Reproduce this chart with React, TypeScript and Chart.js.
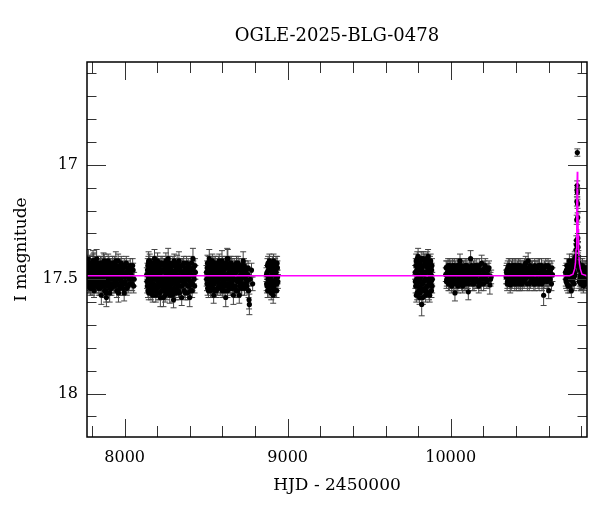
import { useEffect, useRef } from 'react';
import { Chart, registerables } from 'chart.js';

Chart.register(...registerables);

// [HJD - 2450000, I mag, error]
type Obs = [number, number, number];

const TITLE = 'OGLE-2025-BLG-0478';
const X_LABEL = 'HJD - 2450000';
const Y_LABEL = 'I magnitude';
const X_TICKS = [8000, 9000, 10000];
const Y_TICKS = [17, 17.5, 18];
const X_MIN = 7769;
const X_MAX = 10836;
const Y_MIN = 16.55;
const Y_MAX = 18.19;

const season1: Obs[] = [
  [7771, 17.47, 0.03], [7774, 17.52, 0.03], [7776, 17.44, 0.03], [7779, 17.5, 0.03], [7781, 17.46, 0.03],
  [7784, 17.53, 0.03], [7786, 17.43, 0.035], [7789, 17.49, 0.03], [7792, 17.51, 0.03], [7794, 17.45, 0.03],
  [7797, 17.48, 0.03], [7800, 17.54, 0.03], [7803, 17.44, 0.03], [7805, 17.5, 0.03], [7808, 17.47, 0.03],
  [7811, 17.42, 0.035], [7813, 17.52, 0.03], [7816, 17.46, 0.03], [7819, 17.49, 0.03], [7822, 17.53, 0.03],
  [7824, 17.45, 0.03], [7827, 17.5, 0.03], [7830, 17.43, 0.03], [7833, 17.48, 0.03], [7836, 17.51, 0.03],
  [7838, 17.46, 0.03], [7841, 17.54, 0.03], [7844, 17.44, 0.03], [7847, 17.49, 0.03], [7850, 17.52, 0.03],
  [7853, 17.47, 0.03], [7857, 17.57, 0.04], [7860, 17.43, 0.03], [7863, 17.5, 0.03], [7866, 17.45, 0.03],
  [7869, 17.53, 0.03], [7872, 17.48, 0.03], [7875, 17.42, 0.03], [7878, 17.51, 0.03], [7881, 17.46, 0.03],
  [7884, 17.55, 0.03], [7888, 17.58, 0.04], [7891, 17.44, 0.03], [7894, 17.49, 0.03], [7897, 17.52, 0.03],
  [7900, 17.47, 0.03], [7904, 17.43, 0.03], [7907, 17.5, 0.03], [7910, 17.54, 0.03], [7913, 17.45, 0.03],
  [7917, 17.48, 0.03], [7920, 17.52, 0.03], [7923, 17.44, 0.03], [7927, 17.5, 0.03], [7930, 17.46, 0.03],
  [7934, 17.53, 0.03], [7937, 17.43, 0.03], [7941, 17.49, 0.03], [7945, 17.51, 0.03], [7948, 17.45, 0.03],
  [7952, 17.55, 0.03], [7956, 17.47, 0.03], [7960, 17.42, 0.03], [7964, 17.5, 0.03], [7968, 17.53, 0.03],
  [7972, 17.46, 0.03], [7976, 17.44, 0.03], [7980, 17.51, 0.03], [7985, 17.48, 0.03], [7990, 17.54, 0.03],
  [7995, 17.45, 0.03], [8000, 17.49, 0.03], [8005, 17.52, 0.03], [8010, 17.43, 0.03], [8016, 17.47, 0.03],
  [8022, 17.53, 0.03], [8028, 17.5, 0.03], [8034, 17.44, 0.03], [8040, 17.48, 0.03], [8046, 17.52, 0.03],
  [8052, 17.46, 0.03], [8058, 17.5, 0.03],
  [7772, 17.5, 0.03], [7775, 17.45, 0.03], [7778, 17.53, 0.03], [7780, 17.48, 0.03], [7783, 17.43, 0.03],
  [7785, 17.51, 0.03], [7788, 17.46, 0.03], [7790, 17.54, 0.03], [7793, 17.47, 0.03], [7796, 17.44, 0.03],
  [7799, 17.5, 0.03], [7802, 17.52, 0.03], [7804, 17.46, 0.03], [7807, 17.42, 0.03], [7810, 17.49, 0.03],
  [7812, 17.55, 0.03], [7815, 17.44, 0.03], [7818, 17.51, 0.03], [7821, 17.47, 0.03], [7823, 17.43, 0.03],
  [7826, 17.53, 0.03], [7829, 17.48, 0.03], [7832, 17.45, 0.03], [7835, 17.52, 0.03], [7837, 17.49, 0.03],
  [7840, 17.44, 0.03], [7843, 17.51, 0.03], [7846, 17.46, 0.03], [7849, 17.54, 0.03], [7852, 17.43, 0.03],
  [7855, 17.5, 0.03], [7859, 17.47, 0.03], [7862, 17.53, 0.03], [7865, 17.44, 0.03], [7868, 17.49, 0.03],
  [7871, 17.52, 0.03], [7874, 17.46, 0.03], [7877, 17.55, 0.03], [7880, 17.43, 0.03], [7883, 17.48, 0.03],
  [7887, 17.51, 0.03], [7890, 17.45, 0.03], [7893, 17.53, 0.03], [7896, 17.47, 0.03], [7899, 17.42, 0.03],
  [7903, 17.5, 0.03], [7906, 17.46, 0.03], [7909, 17.52, 0.03], [7912, 17.44, 0.03], [7915, 17.49, 0.03],
  [7919, 17.54, 0.03], [7922, 17.47, 0.03], [7926, 17.43, 0.03], [7929, 17.52, 0.03], [7933, 17.48, 0.03],
  [7936, 17.45, 0.03], [7940, 17.53, 0.03], [7944, 17.47, 0.03], [7947, 17.5, 0.03], [7951, 17.44, 0.03],
  [7955, 17.52, 0.03], [7959, 17.49, 0.03], [7963, 17.45, 0.03], [7967, 17.47, 0.03], [7971, 17.54, 0.03],
  [7975, 17.5, 0.03], [7979, 17.43, 0.03], [7983, 17.46, 0.03], [7988, 17.52, 0.03], [7993, 17.48, 0.03],
  [7998, 17.44, 0.03], [8003, 17.51, 0.03], [8008, 17.47, 0.03], [8013, 17.54, 0.03], [8019, 17.45, 0.03],
  [8025, 17.49, 0.03], [8031, 17.52, 0.03], [8037, 17.46, 0.03], [8043, 17.5, 0.03], [8049, 17.44, 0.03],
  [8055, 17.53, 0.03],
  [7777, 17.41, 0.04], [7806, 17.42, 0.045], [7828, 17.41, 0.04], [7870, 17.43, 0.045], [7886, 17.56, 0.04],
  [7908, 17.56, 0.04], [7946, 17.42, 0.04], [7962, 17.56, 0.04], [7997, 17.56, 0.035],
];

const season2: Obs[] = [
  [8136, 17.48, 0.03], [8139, 17.53, 0.03], [8142, 17.44, 0.03], [8145, 17.5, 0.03], [8148, 17.56, 0.03],
  [8151, 17.46, 0.03], [8154, 17.42, 0.03], [8157, 17.51, 0.03], [8160, 17.47, 0.03], [8163, 17.54, 0.03],
  [8166, 17.45, 0.03], [8169, 17.49, 0.03], [8172, 17.57, 0.03], [8175, 17.43, 0.03], [8178, 17.52, 0.03],
  [8181, 17.47, 0.03], [8184, 17.5, 0.03], [8187, 17.55, 0.03], [8190, 17.44, 0.03], [8193, 17.48, 0.03],
  [8196, 17.53, 0.03], [8199, 17.46, 0.03], [8202, 17.42, 0.035], [8205, 17.51, 0.03], [8208, 17.56, 0.03],
  [8211, 17.45, 0.03], [8214, 17.49, 0.03], [8217, 17.53, 0.03], [8220, 17.47, 0.03], [8223, 17.43, 0.03],
  [8226, 17.55, 0.03], [8229, 17.5, 0.03], [8232, 17.46, 0.03], [8235, 17.52, 0.03], [8238, 17.58, 0.04],
  [8241, 17.44, 0.03], [8244, 17.49, 0.03], [8247, 17.54, 0.03], [8250, 17.47, 0.03], [8253, 17.42, 0.035],
  [8256, 17.51, 0.03], [8259, 17.56, 0.03], [8262, 17.45, 0.03], [8265, 17.5, 0.03], [8268, 17.53, 0.03],
  [8271, 17.48, 0.03], [8274, 17.43, 0.03], [8277, 17.57, 0.035], [8280, 17.46, 0.03], [8283, 17.52, 0.03],
  [8286, 17.49, 0.03], [8289, 17.55, 0.03], [8292, 17.44, 0.03], [8295, 17.5, 0.03], [8298, 17.47, 0.03],
  [8301, 17.54, 0.03], [8304, 17.42, 0.03], [8307, 17.51, 0.03], [8310, 17.48, 0.03], [8313, 17.56, 0.03],
  [8316, 17.45, 0.03], [8319, 17.52, 0.03], [8322, 17.43, 0.035], [8326, 17.5, 0.03], [8330, 17.55, 0.03],
  [8334, 17.46, 0.03], [8338, 17.49, 0.03], [8342, 17.53, 0.03], [8346, 17.44, 0.03], [8350, 17.58, 0.035],
  [8354, 17.47, 0.03], [8358, 17.51, 0.03], [8362, 17.43, 0.03], [8366, 17.55, 0.03], [8370, 17.48, 0.03],
  [8374, 17.52, 0.03], [8378, 17.45, 0.03], [8382, 17.5, 0.03], [8386, 17.56, 0.03], [8390, 17.44, 0.03],
  [8394, 17.49, 0.03], [8398, 17.53, 0.03], [8402, 17.46, 0.03], [8406, 17.51, 0.03], [8410, 17.43, 0.03],
  [8414, 17.55, 0.03], [8419, 17.41, 0.045], [8424, 17.49, 0.03], [8429, 17.53, 0.03], [8434, 17.47, 0.03],
  [8137, 17.51, 0.03], [8140, 17.46, 0.03], [8143, 17.55, 0.03], [8146, 17.43, 0.03], [8149, 17.49, 0.03],
  [8152, 17.53, 0.03], [8155, 17.47, 0.03], [8158, 17.44, 0.03], [8161, 17.56, 0.03], [8164, 17.5, 0.03],
  [8167, 17.45, 0.03], [8170, 17.52, 0.03], [8173, 17.48, 0.03], [8176, 17.55, 0.03], [8179, 17.44, 0.03],
  [8182, 17.53, 0.03], [8185, 17.46, 0.03], [8188, 17.5, 0.03], [8191, 17.57, 0.03], [8194, 17.43, 0.03],
  [8197, 17.49, 0.03], [8200, 17.54, 0.03], [8203, 17.47, 0.03], [8206, 17.45, 0.03], [8209, 17.52, 0.03],
  [8212, 17.48, 0.03], [8215, 17.56, 0.03], [8218, 17.44, 0.03], [8221, 17.51, 0.03], [8224, 17.47, 0.03],
  [8227, 17.53, 0.03], [8230, 17.43, 0.03], [8233, 17.5, 0.03], [8236, 17.55, 0.03], [8239, 17.46, 0.03],
  [8242, 17.52, 0.03], [8245, 17.44, 0.03], [8248, 17.57, 0.03], [8251, 17.49, 0.03], [8254, 17.46, 0.03],
  [8257, 17.53, 0.03], [8260, 17.43, 0.03], [8263, 17.48, 0.03], [8266, 17.55, 0.03], [8269, 17.45, 0.03],
  [8272, 17.51, 0.03], [8275, 17.47, 0.03], [8278, 17.44, 0.03], [8281, 17.54, 0.03], [8284, 17.49, 0.03],
  [8287, 17.46, 0.03], [8290, 17.52, 0.03], [8293, 17.57, 0.03], [8296, 17.43, 0.03], [8299, 17.5, 0.03],
  [8302, 17.47, 0.03], [8305, 17.55, 0.03], [8308, 17.44, 0.03], [8311, 17.52, 0.03], [8314, 17.49, 0.03],
  [8317, 17.46, 0.03], [8320, 17.54, 0.03], [8324, 17.48, 0.03], [8328, 17.44, 0.03], [8332, 17.51, 0.03],
  [8336, 17.56, 0.03], [8340, 17.45, 0.03], [8344, 17.5, 0.03], [8348, 17.47, 0.03], [8352, 17.53, 0.03],
  [8356, 17.44, 0.03], [8360, 17.49, 0.03], [8364, 17.52, 0.03], [8368, 17.46, 0.03], [8372, 17.56, 0.03],
  [8376, 17.5, 0.03], [8380, 17.43, 0.03], [8384, 17.48, 0.03], [8388, 17.53, 0.03], [8392, 17.47, 0.03],
  [8396, 17.45, 0.03], [8400, 17.51, 0.03], [8404, 17.55, 0.03], [8408, 17.48, 0.03], [8412, 17.46, 0.03],
  [8416, 17.52, 0.03], [8421, 17.45, 0.03], [8426, 17.5, 0.03], [8431, 17.44, 0.03],
  [8147, 17.42, 0.04], [8183, 17.41, 0.04], [8219, 17.58, 0.04], [8267, 17.41, 0.045], [8300, 17.59, 0.035],
  [8333, 17.42, 0.04], [8399, 17.58, 0.04],
];

const season3: Obs[] = [
  [8502, 17.47, 0.03], [8505, 17.52, 0.03], [8508, 17.43, 0.035], [8511, 17.49, 0.03], [8514, 17.55, 0.03],
  [8517, 17.45, 0.03], [8520, 17.5, 0.03], [8523, 17.53, 0.03], [8526, 17.44, 0.03], [8529, 17.48, 0.03],
  [8532, 17.51, 0.03], [8535, 17.46, 0.03], [8538, 17.42, 0.03], [8541, 17.54, 0.03], [8544, 17.49, 0.03],
  [8547, 17.45, 0.03], [8550, 17.52, 0.03], [8553, 17.47, 0.03], [8556, 17.43, 0.03], [8559, 17.5, 0.03],
  [8562, 17.55, 0.03], [8565, 17.46, 0.03], [8568, 17.51, 0.03], [8571, 17.44, 0.03], [8574, 17.48, 0.03],
  [8577, 17.53, 0.03], [8580, 17.42, 0.03], [8583, 17.5, 0.03], [8586, 17.47, 0.03], [8589, 17.54, 0.03],
  [8592, 17.45, 0.03], [8595, 17.49, 0.03], [8598, 17.52, 0.03], [8601, 17.43, 0.03], [8604, 17.51, 0.03],
  [8607, 17.46, 0.03], [8610, 17.55, 0.03], [8613, 17.48, 0.03], [8616, 17.44, 0.03], [8620, 17.58, 0.04],
  [8624, 17.5, 0.03], [8627, 17.45, 0.03], [8630, 17.53, 0.03], [8633, 17.41, 0.04], [8636, 17.48, 0.03],
  [8639, 17.52, 0.03], [8642, 17.44, 0.03], [8645, 17.5, 0.03], [8648, 17.46, 0.03], [8651, 17.54, 0.03],
  [8654, 17.43, 0.03], [8657, 17.49, 0.03], [8660, 17.51, 0.03], [8664, 17.46, 0.03], [8668, 17.53, 0.03],
  [8672, 17.44, 0.03], [8676, 17.5, 0.03], [8680, 17.47, 0.03], [8684, 17.55, 0.03], [8688, 17.45, 0.03],
  [8692, 17.51, 0.03], [8696, 17.43, 0.03], [8700, 17.49, 0.03], [8705, 17.53, 0.03], [8710, 17.46, 0.03],
  [8715, 17.5, 0.03], [8720, 17.44, 0.03], [8725, 17.52, 0.03], [8730, 17.47, 0.03], [8735, 17.54, 0.03],
  [8740, 17.45, 0.03], [8745, 17.5, 0.03], [8750, 17.53, 0.03], [8755, 17.48, 0.03], [8760, 17.55, 0.03],
  [8763, 17.59, 0.04], [8765, 17.61, 0.045], [8770, 17.5, 0.03], [8778, 17.46, 0.03], [8785, 17.52, 0.03],
  [8503, 17.5, 0.03], [8506, 17.45, 0.03], [8509, 17.54, 0.03], [8512, 17.47, 0.03], [8515, 17.43, 0.03],
  [8518, 17.52, 0.03], [8521, 17.48, 0.03], [8524, 17.45, 0.03], [8527, 17.55, 0.03], [8530, 17.5, 0.03],
  [8533, 17.44, 0.03], [8536, 17.53, 0.03], [8539, 17.48, 0.03], [8542, 17.46, 0.03], [8545, 17.52, 0.03],
  [8548, 17.43, 0.03], [8551, 17.5, 0.03], [8554, 17.55, 0.03], [8557, 17.47, 0.03], [8560, 17.44, 0.03],
  [8563, 17.51, 0.03], [8566, 17.49, 0.03], [8569, 17.54, 0.03], [8572, 17.46, 0.03], [8575, 17.43, 0.03],
  [8578, 17.5, 0.03], [8581, 17.52, 0.03], [8584, 17.45, 0.03], [8587, 17.49, 0.03], [8590, 17.44, 0.03],
  [8593, 17.53, 0.03], [8596, 17.47, 0.03], [8599, 17.55, 0.03], [8602, 17.48, 0.03], [8605, 17.44, 0.03],
  [8608, 17.51, 0.03], [8611, 17.46, 0.03], [8614, 17.53, 0.03], [8618, 17.49, 0.03], [8622, 17.43, 0.03],
  [8625, 17.52, 0.03], [8628, 17.48, 0.03], [8631, 17.55, 0.03], [8635, 17.45, 0.03], [8638, 17.5, 0.03],
  [8641, 17.47, 0.03], [8644, 17.53, 0.03], [8647, 17.43, 0.03], [8650, 17.49, 0.03], [8653, 17.52, 0.03],
  [8656, 17.46, 0.03], [8659, 17.44, 0.03], [8662, 17.54, 0.03], [8666, 17.48, 0.03], [8670, 17.5, 0.03],
  [8674, 17.45, 0.03], [8678, 17.53, 0.03], [8682, 17.47, 0.03], [8686, 17.43, 0.03], [8690, 17.5, 0.03],
  [8694, 17.55, 0.03], [8698, 17.46, 0.03], [8702, 17.44, 0.03], [8707, 17.51, 0.03], [8712, 17.48, 0.03],
  [8717, 17.54, 0.03], [8722, 17.46, 0.03], [8727, 17.49, 0.03], [8732, 17.44, 0.03], [8737, 17.52, 0.03],
  [8742, 17.48, 0.03], [8747, 17.46, 0.03], [8752, 17.51, 0.03], [8757, 17.45, 0.03],
  [8519, 17.41, 0.04], [8546, 17.57, 0.035], [8597, 17.42, 0.045], [8629, 17.41, 0.045], [8667, 17.57, 0.04],
  [8703, 17.57, 0.035], [8727, 17.42, 0.04],
];

const season4: Obs[] = [
  [8870, 17.48, 0.03], [8873, 17.53, 0.03], [8876, 17.44, 0.03], [8879, 17.5, 0.03], [8882, 17.46, 0.03],
  [8885, 17.55, 0.03], [8888, 17.42, 0.03], [8891, 17.49, 0.03], [8894, 17.52, 0.03], [8897, 17.45, 0.03],
  [8900, 17.51, 0.03], [8903, 17.47, 0.03], [8906, 17.43, 0.03], [8909, 17.54, 0.03], [8911, 17.57, 0.035],
  [8914, 17.48, 0.03], [8917, 17.45, 0.03], [8920, 17.52, 0.03], [8923, 17.44, 0.03], [8926, 17.5, 0.03],
  [8929, 17.47, 0.03], [8932, 17.55, 0.03], [8935, 17.43, 0.03], [8938, 17.49, 0.03], [8940, 17.51, 0.03],
  [8871, 17.52, 0.03], [8874, 17.47, 0.03], [8877, 17.55, 0.03], [8880, 17.43, 0.03], [8884, 17.5, 0.03],
  [8887, 17.46, 0.03], [8890, 17.53, 0.03], [8893, 17.44, 0.03], [8896, 17.49, 0.03], [8899, 17.56, 0.03],
  [8902, 17.45, 0.03], [8905, 17.51, 0.03], [8908, 17.47, 0.03], [8913, 17.42, 0.03], [8916, 17.53, 0.03],
  [8919, 17.48, 0.03], [8922, 17.55, 0.03], [8925, 17.46, 0.03], [8928, 17.43, 0.03], [8931, 17.5, 0.03],
  [8934, 17.52, 0.03], [8937, 17.45, 0.03],
];

const season5: Obs[] = [
  [9782, 17.47, 0.03], [9785, 17.53, 0.03], [9788, 17.42, 0.03], [9791, 17.5, 0.03], [9794, 17.56, 0.03],
  [9797, 17.44, 0.03], [9800, 17.4, 0.035], [9803, 17.51, 0.03], [9806, 17.46, 0.03], [9809, 17.58, 0.03],
  [9812, 17.43, 0.03], [9815, 17.49, 0.03], [9818, 17.54, 0.03], [9822, 17.61, 0.05], [9825, 17.45, 0.03],
  [9828, 17.52, 0.03], [9831, 17.41, 0.03], [9834, 17.48, 0.03], [9837, 17.55, 0.03], [9840, 17.44, 0.03],
  [9843, 17.5, 0.03], [9846, 17.57, 0.03], [9849, 17.42, 0.03], [9852, 17.47, 0.03], [9855, 17.53, 0.03],
  [9858, 17.45, 0.03], [9861, 17.4, 0.03], [9864, 17.51, 0.03], [9867, 17.56, 0.03], [9870, 17.46, 0.03],
  [9873, 17.43, 0.03], [9876, 17.52, 0.03], [9879, 17.48, 0.03], [9882, 17.55, 0.03], [9885, 17.44, 0.03],
  [9887, 17.5, 0.03],
  [9783, 17.51, 0.03], [9786, 17.44, 0.03], [9789, 17.57, 0.03], [9792, 17.46, 0.03], [9795, 17.41, 0.03],
  [9798, 17.53, 0.03], [9801, 17.48, 0.03], [9804, 17.55, 0.03], [9807, 17.43, 0.03], [9810, 17.5, 0.03],
  [9813, 17.56, 0.03], [9816, 17.45, 0.03], [9819, 17.41, 0.03], [9823, 17.52, 0.03], [9826, 17.47, 0.03],
  [9829, 17.58, 0.03], [9832, 17.44, 0.03], [9835, 17.51, 0.03], [9838, 17.42, 0.03], [9841, 17.54, 0.03],
  [9844, 17.47, 0.03], [9847, 17.43, 0.03], [9850, 17.55, 0.03], [9853, 17.5, 0.03], [9856, 17.41, 0.03],
  [9859, 17.53, 0.03], [9862, 17.46, 0.03], [9865, 17.44, 0.03], [9868, 17.5, 0.03], [9871, 17.57, 0.03],
  [9874, 17.48, 0.03], [9877, 17.42, 0.03], [9880, 17.51, 0.03], [9883, 17.46, 0.03], [9886, 17.53, 0.03],
];

const season6: Obs[] = [
  [9970, 17.48, 0.03], [9974, 17.51, 0.03], [9978, 17.45, 0.03], [9982, 17.49, 0.03], [9986, 17.52, 0.03],
  [9990, 17.46, 0.03], [9994, 17.44, 0.03], [9998, 17.5, 0.03], [10002, 17.47, 0.03], [10006, 17.53, 0.03],
  [10010, 17.45, 0.03], [10014, 17.49, 0.03], [10018, 17.51, 0.03], [10022, 17.44, 0.03], [10026, 17.56, 0.035],
  [10030, 17.48, 0.03], [10034, 17.46, 0.03], [10038, 17.52, 0.03], [10042, 17.47, 0.03], [10046, 17.5, 0.03],
  [10050, 17.44, 0.03], [10054, 17.49, 0.03], [10057, 17.42, 0.03], [10061, 17.51, 0.03], [10065, 17.46, 0.03],
  [10069, 17.48, 0.03], [10073, 17.53, 0.03], [10077, 17.45, 0.03], [10081, 17.5, 0.03], [10085, 17.47, 0.03],
  [10089, 17.44, 0.03], [10093, 17.52, 0.03], [10097, 17.49, 0.03], [10101, 17.46, 0.03], [10105, 17.51, 0.03],
  [10108, 17.555, 0.035], [10112, 17.47, 0.03], [10116, 17.45, 0.03], [10122, 17.41, 0.035], [10126, 17.5, 0.03],
  [10130, 17.48, 0.03], [10135, 17.52, 0.03], [10140, 17.45, 0.03], [10145, 17.49, 0.03], [10150, 17.46, 0.03],
  [10155, 17.51, 0.03], [10160, 17.44, 0.03], [10166, 17.48, 0.03], [10172, 17.53, 0.03], [10178, 17.46, 0.03],
  [10184, 17.5, 0.03], [10190, 17.43, 0.035], [10196, 17.49, 0.03], [10202, 17.52, 0.03], [10208, 17.45, 0.03],
  [10215, 17.48, 0.03], [10222, 17.51, 0.03], [10230, 17.46, 0.03], [10240, 17.525, 0.04], [10248, 17.49, 0.03],
  [9972, 17.45, 0.03], [9976, 17.5, 0.03], [9980, 17.47, 0.03], [9984, 17.44, 0.03], [9988, 17.5, 0.03],
  [9992, 17.52, 0.03], [9996, 17.47, 0.03], [10000, 17.45, 0.03], [10004, 17.51, 0.03], [10008, 17.48, 0.03],
  [10012, 17.44, 0.03], [10016, 17.52, 0.03], [10020, 17.47, 0.03], [10024, 17.5, 0.03], [10028, 17.45, 0.03],
  [10032, 17.51, 0.03], [10036, 17.48, 0.03], [10040, 17.44, 0.03], [10044, 17.53, 0.03], [10048, 17.47, 0.03],
  [10052, 17.51, 0.03], [10056, 17.46, 0.03], [10059, 17.49, 0.03], [10063, 17.44, 0.03], [10067, 17.52, 0.03],
  [10071, 17.47, 0.03], [10075, 17.5, 0.03], [10079, 17.45, 0.03], [10083, 17.52, 0.03], [10087, 17.48, 0.03],
  [10091, 17.46, 0.03], [10095, 17.51, 0.03], [10099, 17.44, 0.03], [10103, 17.49, 0.03], [10110, 17.52, 0.03],
  [10114, 17.48, 0.03], [10119, 17.5, 0.03], [10124, 17.46, 0.03], [10128, 17.44, 0.03], [10133, 17.5, 0.03],
  [10138, 17.47, 0.03], [10143, 17.52, 0.03], [10148, 17.44, 0.03], [10153, 17.48, 0.03], [10158, 17.5, 0.03],
  [10163, 17.46, 0.03], [10169, 17.51, 0.03], [10175, 17.44, 0.03], [10181, 17.48, 0.03], [10187, 17.52, 0.03],
  [10193, 17.46, 0.03], [10199, 17.5, 0.03], [10205, 17.47, 0.03], [10212, 17.44, 0.03], [10218, 17.5, 0.03],
  [10226, 17.48, 0.03], [10235, 17.45, 0.03], [10244, 17.5, 0.03],
];

const season7: Obs[] = [
  [10340, 17.49, 0.03], [10344, 17.46, 0.03], [10348, 17.51, 0.03], [10352, 17.47, 0.03], [10356, 17.44, 0.03],
  [10360, 17.5, 0.03], [10365, 17.525, 0.035], [10369, 17.48, 0.03], [10373, 17.45, 0.03], [10377, 17.51, 0.03],
  [10381, 17.47, 0.03], [10385, 17.49, 0.03], [10389, 17.44, 0.03], [10393, 17.52, 0.03], [10397, 17.46, 0.03],
  [10401, 17.5, 0.03], [10405, 17.48, 0.03], [10409, 17.45, 0.03], [10413, 17.51, 0.03], [10417, 17.47, 0.03],
  [10421, 17.49, 0.03], [10425, 17.44, 0.03], [10429, 17.52, 0.03], [10433, 17.46, 0.03], [10437, 17.5, 0.03],
  [10441, 17.48, 0.03], [10445, 17.45, 0.03], [10450, 17.51, 0.03], [10455, 17.47, 0.03], [10460, 17.43, 0.03],
  [10465, 17.49, 0.03], [10470, 17.52, 0.03], [10475, 17.42, 0.035], [10480, 17.48, 0.03], [10485, 17.46, 0.03],
  [10490, 17.51, 0.03], [10495, 17.45, 0.03], [10500, 17.49, 0.03], [10505, 17.47, 0.03], [10510, 17.52, 0.03],
  [10515, 17.44, 0.03], [10520, 17.5, 0.03], [10525, 17.47, 0.03], [10530, 17.45, 0.03], [10535, 17.51, 0.03],
  [10540, 17.48, 0.03], [10545, 17.44, 0.03], [10550, 17.5, 0.03], [10555, 17.46, 0.03], [10560, 17.52, 0.03],
  [10565, 17.48, 0.03], [10570, 17.57, 0.045], [10575, 17.45, 0.03], [10580, 17.5, 0.03], [10586, 17.47, 0.03],
  [10592, 17.51, 0.03], [10597, 17.44, 0.03], [10601, 17.55, 0.035], [10606, 17.49, 0.03], [10612, 17.46, 0.03],
  [10618, 17.52, 0.03], [10624, 17.48, 0.03],
  [10342, 17.47, 0.03], [10346, 17.52, 0.03], [10350, 17.45, 0.03], [10354, 17.5, 0.03], [10358, 17.47, 0.03],
  [10362, 17.44, 0.03], [10367, 17.5, 0.03], [10371, 17.52, 0.03], [10375, 17.47, 0.03], [10379, 17.44, 0.03],
  [10383, 17.5, 0.03], [10387, 17.48, 0.03], [10391, 17.46, 0.03], [10395, 17.5, 0.03], [10399, 17.44, 0.03],
  [10403, 17.52, 0.03], [10407, 17.47, 0.03], [10411, 17.49, 0.03], [10415, 17.44, 0.03], [10419, 17.52, 0.03],
  [10423, 17.47, 0.03], [10427, 17.5, 0.03], [10431, 17.45, 0.03], [10435, 17.48, 0.03], [10439, 17.52, 0.03],
  [10443, 17.46, 0.03], [10447, 17.5, 0.03], [10452, 17.44, 0.03], [10457, 17.5, 0.03], [10462, 17.47, 0.03],
  [10467, 17.45, 0.03], [10472, 17.49, 0.03], [10477, 17.46, 0.03], [10482, 17.52, 0.03], [10487, 17.44, 0.03],
  [10492, 17.48, 0.03], [10497, 17.5, 0.03], [10502, 17.45, 0.03], [10507, 17.5, 0.03], [10512, 17.47, 0.03],
  [10517, 17.52, 0.03], [10522, 17.45, 0.03], [10527, 17.5, 0.03], [10532, 17.48, 0.03], [10537, 17.44, 0.03],
  [10542, 17.52, 0.03], [10547, 17.47, 0.03], [10552, 17.5, 0.03], [10557, 17.44, 0.03], [10562, 17.49, 0.03],
  [10567, 17.46, 0.03], [10572, 17.51, 0.03], [10578, 17.48, 0.03], [10583, 17.44, 0.03], [10589, 17.5, 0.03],
  [10595, 17.47, 0.03], [10603, 17.45, 0.03], [10609, 17.5, 0.03], [10615, 17.48, 0.03], [10621, 17.45, 0.03],
];

const season8: Obs[] = [
  [10704, 17.47, 0.03], [10708, 17.51, 0.03], [10712, 17.44, 0.03], [10716, 17.49, 0.03], [10720, 17.53, 0.03],
  [10724, 17.46, 0.03], [10728, 17.42, 0.03], [10732, 17.5, 0.03], [10736, 17.48, 0.03], [10740, 17.55, 0.03],
  [10744, 17.45, 0.03], [10748, 17.51, 0.03], [10752, 17.43, 0.03], [10756, 17.49, 0.03], [10759, 17.47, 0.03],
  [10762, 17.44, 0.03], [10765, 17.42, 0.025], [10767, 17.4, 0.025], [10769, 17.37, 0.025], [10771, 17.33, 0.02],
  [10772, 17.35, 0.02], [10773, 17.24, 0.02], [10774, 17.16, 0.02], [10775, 17.11, 0.02], [10776, 17.09, 0.02],
  [10776.7, 16.946, 0.016], [10777, 17.12, 0.02], [10778, 17.17, 0.02], [10779, 17.23, 0.02], [10780, 17.32, 0.02],
  [10781, 17.36, 0.025], [10783, 17.4, 0.025], [10786, 17.43, 0.03], [10789, 17.46, 0.03], [10792, 17.5, 0.03],
  [10795, 17.44, 0.03], [10798, 17.48, 0.03], [10801, 17.52, 0.03], [10803, 17.515, 0.03], [10806, 17.46, 0.03],
  [10810, 17.49, 0.03], [10814, 17.53, 0.03], [10818, 17.45, 0.03], [10822, 17.5, 0.03], [10826, 17.47, 0.03],
  [10830, 17.51, 0.03],
  [10706, 17.5, 0.03], [10710, 17.46, 0.03], [10714, 17.52, 0.03], [10718, 17.44, 0.03], [10722, 17.49, 0.03],
  [10726, 17.47, 0.03], [10730, 17.53, 0.03], [10734, 17.44, 0.03], [10738, 17.5, 0.03], [10742, 17.47, 0.03],
  [10746, 17.42, 0.03], [10750, 17.49, 0.03], [10754, 17.46, 0.03], [10757, 17.52, 0.03], [10761, 17.41, 0.03],
  [10763, 17.48, 0.03], [10785, 17.45, 0.03], [10788, 17.51, 0.03], [10791, 17.44, 0.03], [10794, 17.49, 0.03],
  [10797, 17.52, 0.03], [10800, 17.46, 0.03], [10804, 17.5, 0.03], [10808, 17.44, 0.03], [10812, 17.48, 0.03],
  [10816, 17.5, 0.03], [10820, 17.46, 0.03], [10824, 17.52, 0.03], [10828, 17.45, 0.03],
];

// fitted model curve
const modelCurve: [number, number][] = [
  [7769, 17.485], [10730, 17.485], [10750, 17.478], [10760, 17.455], [10765, 17.43],
  [10769, 17.37], [10772, 17.28], [10774.5, 17.17], [10776.7, 17.03], [10779, 17.17],
  [10781.5, 17.28], [10784.5, 17.37], [10789, 17.43], [10795, 17.455], [10805, 17.478],
  [10836, 17.485],
];

const observations: Obs[] = [
  ...season1, ...season2, ...season3, ...season4,
  ...season5, ...season6, ...season7, ...season8,
];

const FONT = "'DejaVu Serif', serif";

// error bars under the points, frame and inward ticks on top
const lightCurvePlugin = {
  id: 'lightCurve',
  beforeDatasetsDraw(chart: any) {
    const { ctx, chartArea: a, scales } = chart;
    const xs = scales.x;
    const ys = scales.y;
    ctx.save();
    ctx.beginPath();
    ctx.rect(a.left, a.top, a.right - a.left, a.bottom - a.top);
    ctx.clip();
    ctx.strokeStyle = '#444';
    ctx.lineWidth = 1;
    ctx.beginPath();
    observations.forEach(([t, m, e]) => {
      const px = xs.getPixelForValue(t);
      const y1 = ys.getPixelForValue(m - e);
      const y2 = ys.getPixelForValue(m + e);
      ctx.moveTo(px, y1);
      ctx.lineTo(px, y2);
      ctx.moveTo(px - 3, y1);
      ctx.lineTo(px + 3, y1);
      ctx.moveTo(px - 3, y2);
      ctx.lineTo(px + 3, y2);
    });
    ctx.stroke();
    ctx.restore();
  },
  afterDraw(chart: any) {
    const { ctx, chartArea: a, scales } = chart;
    const xs = scales.x;
    const ys = scales.y;
    ctx.save();
    ctx.strokeStyle = '#333';
    ctx.lineWidth = 1;
    ctx.beginPath();
    for (let v = 7800; v <= 10800; v += 200) {
      const px = Math.round(xs.getPixelForValue(v)) + 0.5;
      const len = v % 1000 === 0 ? 18 : 11;
      ctx.moveTo(px, a.bottom);
      ctx.lineTo(px, a.bottom - len);
      ctx.moveTo(px, a.top);
      ctx.lineTo(px, a.top + len);
    }
    for (let k = 166; k <= 181; k++) {
      const py = Math.round(ys.getPixelForValue(k / 10)) + 0.5;
      const len = k % 5 === 0 ? 19 : 9.5;
      ctx.moveTo(a.left, py);
      ctx.lineTo(a.left + len, py);
      ctx.moveTo(a.right, py);
      ctx.lineTo(a.right - len, py);
    }
    ctx.stroke();
    ctx.strokeStyle = '#000';
    ctx.lineWidth = 1.5;
    ctx.strokeRect(a.left, a.top, a.right - a.left, a.bottom - a.top);
    ctx.restore();
  },
};

export default function App() {
  const canvasRef = useRef<HTMLCanvasElement | null>(null);
  const chartRef = useRef<Chart | null>(null);

  useEffect(() => {
    document.body.style.margin = '0';
    if (!canvasRef.current) return;
    if (chartRef.current) chartRef.current.destroy();

    chartRef.current = new Chart(canvasRef.current, {
      type: 'scatter',
      data: {
        datasets: [
          {
            label: 'model',
            data: modelCurve.map(([t, m]) => ({ x: t, y: m })),
            showLine: true,
            borderColor: '#ff00ff',
            borderWidth: 1.5,
            pointRadius: 0,
            tension: 0,
          },
          {
            label: 'OGLE',
            data: observations.map(([t, m]) => ({ x: t, y: m })),
            backgroundColor: '#000',
            borderColor: '#000',
            borderWidth: 0,
            pointRadius: 2.6,
          },
        ],
      },
      options: {
        responsive: true,
        maintainAspectRatio: false,
        animation: false,
        layout: { padding: { left: 0, right: 13, top: 0, bottom: 0 } },
        plugins: {
          legend: { display: false },
          tooltip: { enabled: false },
        },
        scales: {
          x: {
            type: 'linear',
            position: 'bottom',
            min: X_MIN,
            max: X_MAX,
            afterBuildTicks: (s: any) => { s.ticks = X_TICKS.map(v => ({ value: v })); },
            afterFit: (s: any) => { s.height = 75; },
            grid: { display: false, drawTicks: false },
            border: { display: false },
            ticks: {
              color: '#000',
              padding: 11,
              maxRotation: 0,
              font: { family: FONT, size: 16 },
              callback: (v: any) => String(v),
            },
            title: {
              display: true,
              text: X_LABEL,
              color: '#000',
              font: { family: FONT, size: 17 },
              padding: { top: 0, bottom: 16 },
            },
          },
          x2: {
            type: 'linear',
            position: 'top',
            display: true,
            min: X_MIN,
            max: X_MAX,
            afterFit: (s: any) => { s.height = 62; },
            grid: { display: false, drawTicks: false },
            border: { display: false },
            ticks: { display: false },
            title: {
              display: true,
              text: TITLE,
              color: '#000',
              font: { family: FONT, size: 18 },
              padding: { top: 26, bottom: 0 },
            },
          },
          y: {
            type: 'linear',
            position: 'left',
            reverse: true,
            min: Y_MIN,
            max: Y_MAX,
            afterBuildTicks: (s: any) => { s.ticks = Y_TICKS.map(v => ({ value: v })); },
            afterFit: (s: any) => { s.width = 87; },
            grid: { display: false, drawTicks: false },
            border: { display: false },
            ticks: {
              color: '#000',
              padding: 9,
              font: { family: FONT, size: 16 },
              callback: (v: any) => String(v),
            },
            title: {
              display: true,
              text: Y_LABEL,
              color: '#000',
              font: { family: FONT, size: 17 },
              padding: { top: 11, bottom: 0 },
            },
          },
        },
      },
      plugins: [lightCurvePlugin],
    });

    return () => {
      if (chartRef.current) {
        chartRef.current.destroy();
        chartRef.current = null;
      }
    };
  }, []);

  return (
    <div style={{ position: 'relative', width: '600px', height: '512px' }}>
      <canvas ref={canvasRef} aria-label="OGLE-2025-BLG-0478 light curve" />
    </div>
  );
}
